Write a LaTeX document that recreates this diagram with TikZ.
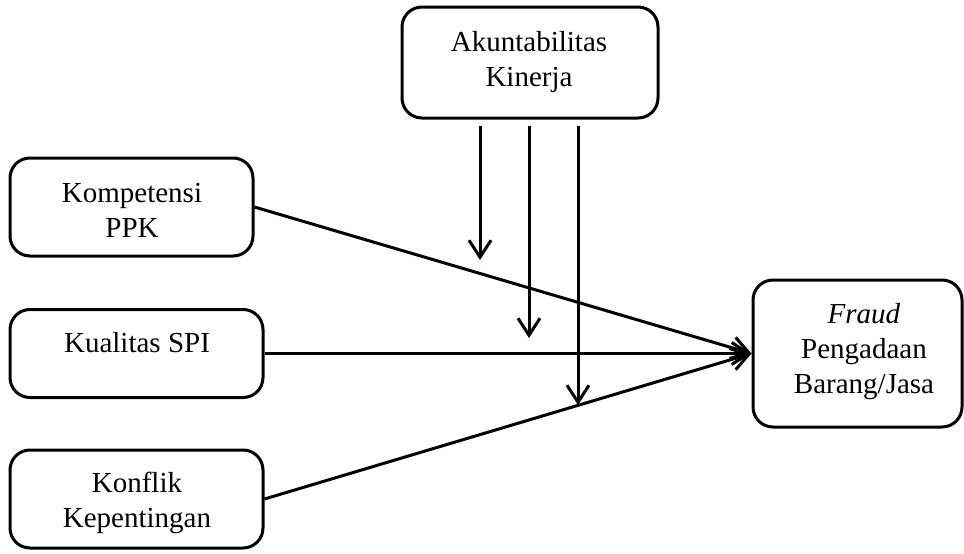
\documentclass[tikz,border=0pt]{standalone}
\usepackage{fontspec}
\setmainfont{Liberation Serif}
\usetikzlibrary{arrows.meta}
\begin{document}
\begin{tikzpicture}[x=1pt,y=-1pt,
  box/.style={draw, line width=3pt, rounded corners=20pt, inner sep=0pt},
  lbl/.style={align=center, font=\fontsize{29}{35}\selectfont},
  conn/.style={line width=3pt, -{Straight Barb[length=17pt,width=22pt,line width=3pt]}}]
\useasboundingbox (0,0) rectangle (964,554);
% boxes
\node[box, minimum width=256, minimum height=111] (ak) at (530,62.5) {};
\node[lbl] (akt) at (529,62.5) {Akuntabilitas\\Kinerja};
\node[box, minimum width=243, minimum height=98] (komp) at (131.5,207) {};
\node[lbl] (kompt) at (132,210.5) {Kompetensi\\PPK};
\node[box, minimum width=253, minimum height=88] (kual) at (136.5,353.5) {};
\node[lbl] (kualt) at (137,343) {Kualitas SPI};
\node[box, minimum width=253, minimum height=98] (konf) at (136.5,499) {};
\node[lbl] (konft) at (137,502.5) {Konflik\\Kepentingan};
\node[box, minimum width=209, minimum height=147] (fr) at (857.5,353.5) {};
\node[lbl] (frt) at (864,352) {\textit{Fraud}\\Pengadaan\\Barang/Jasa};
% target point on the west side of the Fraud box
\coordinate (tgt) at (fr.west);
\coordinate (k1) at (komp.east);
\coordinate (k2) at (kual.east);
\coordinate (k3) at (konf.east);
\draw[conn] (k1) -- (tgt);
\draw[conn] (k2) -- (tgt);
\draw[conn] (k3) -- (tgt);
% moderating arrows
\coordinate (s1) at (480,126); \coordinate (e1) at (480,260);
\coordinate (s2) at (529,126); \coordinate (e2) at (529,338);
\coordinate (s3) at (578,126); \coordinate (e3) at (578,405);
\draw[conn] (s1) -- (e1);
\draw[conn] (s2) -- (e2);
\draw[conn] (s3) -- (e3);
\end{tikzpicture}
\end{document}
